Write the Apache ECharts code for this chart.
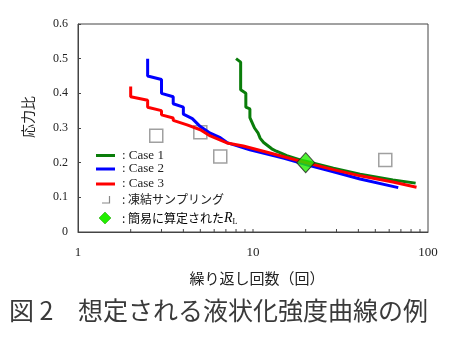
<!DOCTYPE html>
<html><head><meta charset="utf-8">
<script src="https://cdn.jsdelivr.net/npm/echarts@6/dist/echarts.min.js"></script>
<style>html,body{margin:0;padding:0;background:#fff}#c{width:450px;height:350px}</style>
</head><body><div id="c"></div>
<script>
// Case 1 (green)
const case1N = [8.0, 8.5, 8.5, 9.1, 9.1, 9.6, 9.6, 10.0, 10.2, 10.7, 11.0, 11.5, 12.8, 13.6, 15.6, 18.6, 20, 28.8, 40.9, 63, 85];
const case1R = [0.50, 0.49, 0.41, 0.40, 0.36, 0.355, 0.33, 0.31, 0.30, 0.285, 0.27, 0.258, 0.24, 0.233, 0.22, 0.208, 0.204, 0.184, 0.167, 0.150, 0.141];
// Case 2 (blue)
const case2N = [2.5, 2.5, 3.0, 3.0, 3.5, 3.5, 4.0, 4.0, 4.5, 5.0, 5.7, 6.5, 7.1, 9.6, 14.9, 20.3, 28.8, 40.9, 67.6];
const case2R = [0.50, 0.45, 0.44, 0.40, 0.39, 0.37, 0.36, 0.34, 0.327, 0.304, 0.285, 0.272, 0.258, 0.237, 0.213, 0.194, 0.174, 0.153, 0.128];
// Case 3 (red)
const case3N = [2.0, 2.0, 2.5, 2.5, 3.0, 3.0, 3.5, 3.5, 4.2, 5.0, 5.7, 7.1, 8.8, 12.5, 20, 28.8, 40.9, 63, 86];
const case3R = [0.42, 0.39, 0.38, 0.36, 0.35, 0.338, 0.329, 0.322, 0.309, 0.295, 0.277, 0.257, 0.248, 0.228, 0.200, 0.180, 0.162, 0.144, 0.129];
// 凍結サンプリング
const sampN = [2.8, 5.0, 6.5, 57];
const sampR = [0.278, 0.288, 0.218, 0.208];
// 簡易に算定された R_L
const rlN = [20];
const rlR = [0.20];
// axes
const xMin = 1, xMax = 100;
const yMin = 0, yMax = 0.6, yStep = 0.1;
const xMinorTicks = [2, 3, 4, 5, 6, 7, 8, 9, 10, 20, 30, 40, 50, 60, 70, 80, 90];
const legendLabels = [': Case 1', ': Case 2', ': Case 3', ': 凍結サンプリング', ': 簡易に算定された'];
const xAxisTitle = '繰り返し回数（回）';
const yAxisTitle = '応力比';
const figNo = '図 2';
const figTitle = '想定される液状化強度曲線の例';

const zip = (a, b) => a.map((v, i) => [v, b[i]]);
const serif = '"Liberation Serif", "DejaVu Serif", serif';
const jp = '"Noto Sans CJK JP", sans-serif';
const colors = ['#0a7d0a', '#0000ff', '#ff0000'];

const chart = echarts.init(document.getElementById('c'), null, {renderer: 'canvas'});
const lineSeries = (name, data, color) => ({
  name, type: 'line', data, showSymbol: false, symbol: 'none', smooth: false,
  lineStyle: {color, width: 3}, z: 3, animation: false
});
const lx1 = 96, lx2 = 115, ltx = 122;
const ly = [155.5, 169, 184, 199, 218];
chart.setOption({
  animation: false,
  grid: {left: 78, right: 22, top: 24, bottom: 118, show: true, borderColor: '#444', borderWidth: 1},
  xAxis: {
    type: 'log', min: xMin, max: xMax, logBase: 10,
    axisLine: {lineStyle: {color: '#444'}},
    axisTick: {show: false}, splitLine: {show: false},
    axisLabel: {fontFamily: serif, fontSize: 13, color: '#222', margin: 14, formatter: v => String(v)}
  },
  yAxis: {
    type: 'value', min: yMin, max: yMax, interval: yStep,
    axisLine: {show: true, lineStyle: {color: '#444'}},
    axisTick: {show: true, inside: true, length: 3, lineStyle: {color: '#444'}},
    splitLine: {show: false},
    axisLabel: {fontFamily: serif, fontSize: 12, color: '#222', margin: 10, formatter: v => String(Math.round(v * 10) / 10)}
  },
  series: [
    {
      type: 'custom', data: xMinorTicks.map(v => [v, yMin]), silent: true, z: 1, clip: false,
      renderItem: (params, api) => {
        const p = api.coord([api.value(0), api.value(1)]);
        return {type: 'line', shape: {x1: p[0], y1: p[1], x2: p[0], y2: p[1] - 3}, style: {stroke: '#444', lineWidth: 1}};
      }
    },
    {
      type: 'scatter', data: zip(sampN, sampR), symbol: 'rect', symbolSize: 13, z: 2,
      itemStyle: {color: '#fff', borderColor: '#888', borderWidth: 1.5}
    },
    lineSeries('Case 1', zip(case1N, case1R), colors[0]),
    lineSeries('Case 2', zip(case2N, case2R), colors[1]),
    lineSeries('Case 3', zip(case3N, case3R), colors[2]),
    {
      type: 'scatter', data: zip(rlN, rlR), symbol: 'diamond', symbolSize: [18, 20], z: 5,
      itemStyle: {color: '#22ee00', borderColor: '#222', borderWidth: 1}
    }
  ],
  graphic: [
    {type: 'line', shape: {x1: lx1, y1: ly[0], x2: lx2, y2: ly[0]}, style: {stroke: colors[0], lineWidth: 3}},
    {type: 'line', shape: {x1: lx1, y1: ly[1], x2: lx2, y2: ly[1]}, style: {stroke: colors[1], lineWidth: 3}},
    {type: 'line', shape: {x1: lx1, y1: ly[2], x2: lx2, y2: ly[2]}, style: {stroke: colors[2], lineWidth: 3}},
    {type: 'polyline', shape: {points: [[109.5, 196], [109.5, 203], [102, 203]]}, style: {stroke: '#888', lineWidth: 1.2, fill: null}},
    {type: 'polygon', shape: {points: [[105, 212], [111, 218], [105, 224], [99, 218]]}, style: {fill: '#22ee00', stroke: '#1a9a00', lineWidth: 0.5}},
    {type: 'text', x: ltx, y: ly[0], style: {text: legendLabels[0], font: '13px ' + serif, fill: '#222', verticalAlign: 'middle'}},
    {type: 'text', x: ltx, y: ly[1], style: {text: legendLabels[1], font: '13px ' + serif, fill: '#222', verticalAlign: 'middle'}},
    {type: 'text', x: ltx, y: ly[2], style: {text: legendLabels[2], font: '13px ' + serif, fill: '#222', verticalAlign: 'middle'}},
    {type: 'text', x: ltx, y: ly[3], style: {text: legendLabels[3], font: '12px ' + jp, fill: '#222', verticalAlign: 'middle'}},
    {type: 'text', x: ltx, y: ly[4], style: {
      text: '{a|' + legendLabels[4] + '}{b|R}{c|L}', verticalAlign: 'middle',
      rich: {
        a: {fontFamily: jp, fontSize: 12, color: '#222', lineHeight: 16},
        b: {fontFamily: serif, fontStyle: 'italic', fontSize: 14, color: '#222', lineHeight: 16},
        c: {fontFamily: serif, fontSize: 8, color: '#222', lineHeight: 16, padding: [8, 0, 0, 0]}
      }
    }},
    {type: 'text', x: 28, y: 117, rotation: Math.PI / 2, style: {text: yAxisTitle, font: '14px ' + jp, fill: '#222', align: 'center', verticalAlign: 'middle'}},
    {type: 'text', x: 257, y: 278, style: {text: xAxisTitle, font: '15px ' + jp, fill: '#222', align: 'center', verticalAlign: 'middle'}},
    {type: 'text', x: 9, y: 310, style: {text: figNo, font: '25px ' + jp, fill: '#3a3a3a', verticalAlign: 'middle'}},
    {type: 'text', x: 78, y: 310, style: {text: figTitle, font: '25px ' + jp, fill: '#3a3a3a', verticalAlign: 'middle'}}
  ]
});
</script>
</body></html>
